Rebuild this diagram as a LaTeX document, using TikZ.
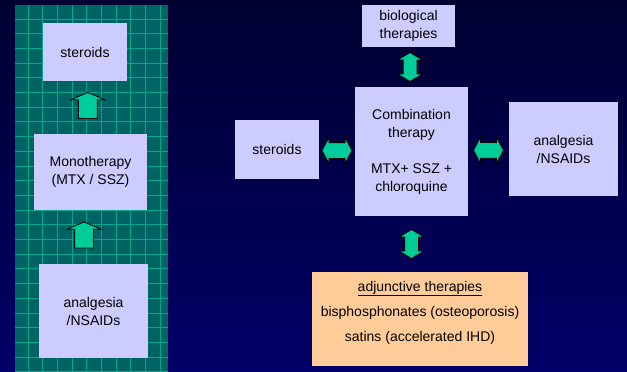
\documentclass[tikz,border=0pt]{standalone}
\usepackage{fontspec}
\setmainfont{Liberation Sans}
\usetikzlibrary{calc,positioning,shapes.arrows}
\definecolor{Night}{HTML}{000030}
\definecolor{DeepBlue}{HTML}{000068}
\definecolor{Panel}{HTML}{006363}
\definecolor{GridLine}{HTML}{00A88C}
\definecolor{Lilac}{HTML}{CCCCFF}
\definecolor{Peach}{HTML}{FFCC99}
\definecolor{Mint}{HTML}{00CC99}
\tikzset{
  therbox/.style={fill=#1, inner sep=0pt, align=center, text=black,
    font=\fontsize{14}{18}\selectfont},
  therbox/.default={Lilac},
  gridln/.style={GridLine, line width=0.9pt},
}

\begin{document}
\begin{tikzpicture}[x=1pt, y=-1pt,
  uparr/.style={single arrow, draw=black, fill=Mint, line width=0.8pt,
    shape border rotate=90, inner sep=9pt, minimum height=26pt,
    single arrow head extend=7.5pt, single arrow tip angle=134},
  vdarr/.style={double arrow, draw=black, fill=Mint, line width=0.8pt,
    shape border rotate=90, inner sep=6.5pt, minimum height=29pt,
    double arrow head extend=5.5pt, double arrow tip angle=118},
  hdarr/.style={double arrow, draw=black, fill=Mint, line width=0.8pt,
    inner sep=7.5pt, minimum height=30pt,
    double arrow head extend=5.5pt, double arrow tip angle=124},
]
  \useasboundingbox (0,0) rectangle (627,372);
  \shade[top color=Night, bottom color=DeepBlue] (0,0) rectangle (627,372);

  % left panel with grid
  \fill[Panel] (15,5) rectangle (168,372);
  \begin{scope}
    \clip (15,5) rectangle (168,372);
    \foreach \gx in {0,...,9}
      \draw[gridln] (28+14.7*\gx,5) -- (28+14.7*\gx,372);
    \foreach \gy in {0,...,24}
      \draw[gridln] (15,19+14.7*\gy) -- (168,19+14.7*\gy);
  \end{scope}

  % monotherapy ladder
  \node[therbox, minimum width=84pt, minimum height=58pt] (lster) at (85,52) {steroids};
  \node[therbox, minimum width=113pt, minimum height=76pt] (mono) at (90.5,172)
    {Monotherapy\\(MTX / SSZ)};
  \node[therbox, minimum width=109pt, minimum height=94pt] (lanalg) at (93.5,311)
    {analgesia\\/NSAIDs};
  \node[uparr] (up1) at ($(lster.south)!0.5!(mono.north)$) {};
  \node[uparr, xshift=-8pt] (up2) at ($(mono.south)!0.5!(lanalg.north)$) {};

  % combination therapy
  \node[therbox, minimum width=93pt, minimum height=42pt] (bio) at (408.5,26)
    {biological\\therapies};
  \node[therbox, minimum width=113pt, minimum height=129pt] (comb) at (411.5,151.5)
    {Combination\\therapy\\[18pt]MTX+ SSZ +\\chloroquine};
  \node[therbox, minimum width=84pt, minimum height=59pt] (rster) at (277,149.5) {steroids};
  \node[therbox, minimum width=109pt, minimum height=94pt] (ranalg) at (563.5,149)
    {analgesia\\/NSAIDs};
  \node[therbox=Peach, minimum width=216pt, minimum height=94pt, text depth=16pt] (adj) at (420,319)
    {\underline{adjunctive therapies}\\[7pt]bisphosphonates (osteoporosis)\\[7pt]satins (accelerated IHD)};

  \node[vdarr] (bioarr) at ($(bio.south)!0.5!(comb.north)$) {};
  \node[hdarr] (sterarr) at ($(rster.east)!0.5!(comb.west)$) {};
  \node[hdarr] (analgarr) at ($(comb.east)!0.5!(ranalg.west)$) {};
  \node[vdarr] (adjarr) at ($(comb.south)!0.5!(comb.south |- adj.north)$) {};
\end{tikzpicture}
\end{document}
